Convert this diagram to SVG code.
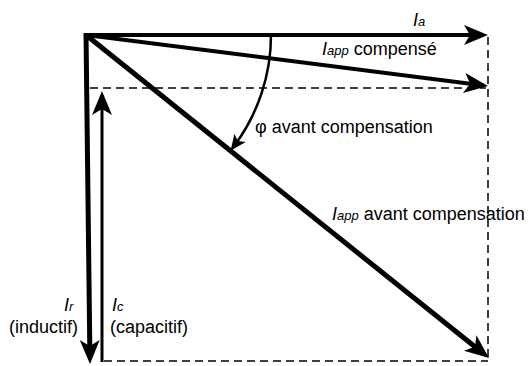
<svg xmlns="http://www.w3.org/2000/svg" width="530" height="366" viewBox="0 0 530 366">
<style>
  text { font-family: "Liberation Sans", Arial, sans-serif; font-size: 18px; fill: #000; }
  .it { font-style: italic; }
  .sub { font-size: 13px; font-style: italic; }
  .vec { stroke: #000; fill: none; }
  .dash { stroke: #000; stroke-width: 1.5; stroke-dasharray: 8 5; fill: none; }
</style>
<defs>
  <marker id="big" markerUnits="userSpaceOnUse" markerWidth="24" markerHeight="22" refX="12" refY="10" orient="auto" overflow="visible">
    <path d="M0,0 L24,10 L0,20 L6,10 z" fill="#000"/>
  </marker>
  <marker id="small" markerUnits="userSpaceOnUse" markerWidth="16" markerHeight="14" refX="10" refY="7" orient="auto" overflow="visible">
    <path d="M0,0 L16,7 L0,14 L4,7 z" fill="#000"/>
  </marker>
</defs>
<g id="connectors">
  <line class="dash" x1="90" y1="88" x2="486" y2="88"/>
  <line class="dash" x1="488" y1="37" x2="488" y2="358"/>
  <line class="dash" x1="104" y1="361" x2="488" y2="361"/>
  <line id="Ia" class="vec" stroke-width="4" x1="84" y1="35" x2="476" y2="35" marker-end="url(#big)"/>
  <line id="Iapp-comp" class="vec" stroke-width="4" x1="86" y1="35" x2="476.1" y2="84.5" marker-end="url(#big)"/>
  <line id="Iapp-avant" class="vec" stroke-width="5" x1="86" y1="35" x2="479.6" y2="350.5" marker-end="url(#big)"/>
  <line id="Ir" class="vec" stroke-width="5" x1="86" y1="33" x2="89.85" y2="352" marker-end="url(#big)"/>
  <line id="Ic" class="vec" stroke-width="3" x1="102" y1="362" x2="102" y2="103" marker-end="url(#big)"/>
  <path id="phi-arc" class="vec" stroke-width="2.5" d="M 271,35 A 185 185 0 0 1 234.1,145.9" marker-end="url(#small)"/>
</g>
<g id="label-Ia"><text x="413" y="26"><tspan class="it">I</tspan><tspan class="sub">a</tspan></text></g>
<g id="label-Iapp-comp"><text x="322" y="55"><tspan class="it">I</tspan><tspan class="sub">app</tspan> compensé</text></g>
<g id="label-phi"><text x="255" y="133">φ avant compensation</text></g>
<g id="label-Iapp-avant"><text x="332" y="220"><tspan class="it">I</tspan><tspan class="sub">app</tspan> avant compensation</text></g>
<g id="label-Ir">
  <text x="64" y="311"><tspan class="it">I</tspan><tspan class="sub">r</tspan></text>
  <text x="78" y="333" text-anchor="end">(inductif)</text>
</g>
<g id="label-Ic">
  <text x="112" y="311"><tspan class="it">I</tspan><tspan class="sub">c</tspan></text>
  <text x="110" y="333">(capacitif)</text>
</g>
</svg>
